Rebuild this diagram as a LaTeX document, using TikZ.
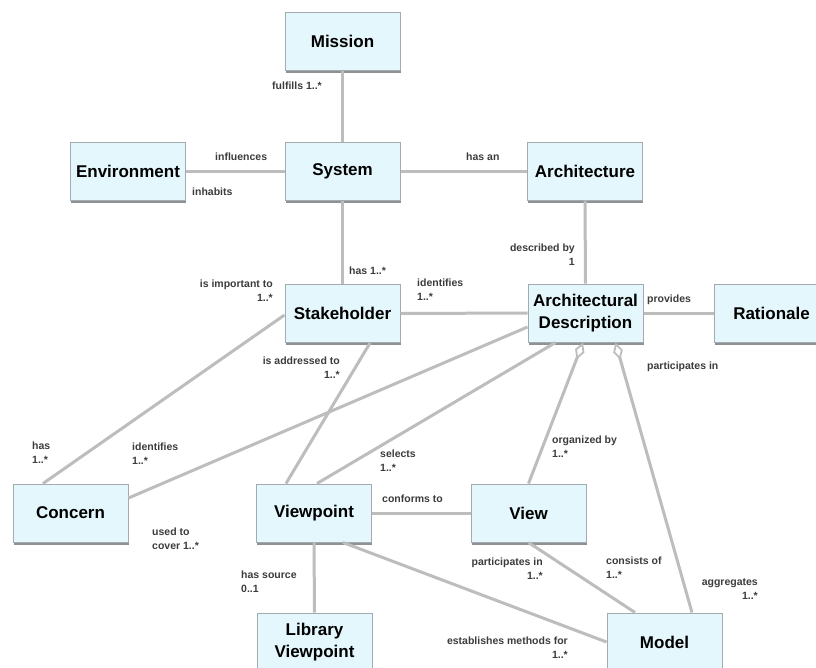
\documentclass[tikz,border=0pt]{standalone}
\usepackage{fontspec}
\setmainfont{Liberation Sans}
\usetikzlibrary{arrows.meta,shadows}
\definecolor{boxfill}{HTML}{E4F7FC}
\definecolor{boxline}{HTML}{A3ABAF}
\definecolor{shadowc}{HTML}{8C9296}
\definecolor{connc}{HTML}{BDBDBD}
\definecolor{lblc}{HTML}{3C3C3C}
\begin{document}
\begin{tikzpicture}[x=1pt,y=-1pt,
 cls/.style={draw=boxline, line width=1pt, fill=boxfill, minimum width=115pt, minimum height=58pt, inner sep=0pt, align=center, font=\fontsize{17}{22}\selectfont\bfseries, drop shadow={shadow xshift=0.5pt, shadow yshift=-2.5pt, fill=shadowc, opacity=1}},
 connline/.style={draw=connc, line width=3pt},
 lab/.style={inner sep=0pt, text=lblc, font=\fontsize{10.5}{14}\selectfont\bfseries},
 agg/.style={connline, {Diamond[open, length=18pt, width=10pt, line width=1.8pt]}-}
]
\useasboundingbox (0,0) rectangle (816,667);
\clip (0,0) rectangle (816,667);
\fill[white] (0,0) rectangle (816,667);

% classes
\node[cls] (mission) at (342.5,41) {Mission};
\node[cls] (system) at (342.5,171) {System};
\node[cls] (env) at (128,171) {Environment};
\node[cls] (arch) at (585,171) {Architecture};
\node[cls] (stake) at (342.5,313.5) {Stakeholder};
\node[cls] (ad) at (585.5,313) {Architectural\\Description};
\node[cls] (rat) at (771.5,313) {Rationale};
\node[cls] (concern) at (70.5,513) {Concern};
\node[cls] (vp) at (314,513) {Viewpoint};
\node[cls] (view) at (528.5,513) {View};
\node[cls] (model) at (664.5,642) {Model};
\node[cls] (lib) at (314.5,642) {Library\\Viewpoint};

% connectors
\draw[connline] (mission.south) -- (system.north);
\draw[connline] (env.east) -- (system.west);
\draw[connline] (system.east) -- (arch.west);
\draw[connline] (system.south) -- (stake.north);
\draw[connline] (arch.south) -- (ad.north);
\draw[connline] (stake.east) -- (ad.west);
\draw[connline] (ad.east) -- (rat.west);
\draw[connline] ([yshift=-1.5pt]stake.west) -- ([xshift=-27.5pt]concern.north);
\draw[connline] ([xshift=27.5pt]stake.south) -- ([xshift=-28pt]vp.north);
\draw[connline] ([yshift=-14pt]ad.west) -- ([yshift=15pt]concern.east);
\draw[connline] ([xshift=-30pt]ad.south) -- ([xshift=3pt]vp.north);
\draw[agg] ([xshift=-2.5pt]ad.south) -- (view.north);
\draw[agg] ([xshift=30pt]ad.south) -- ([xshift=27.5pt]model.north);
\draw[connline] (view.south) -- ([xshift=-29.5pt]model.north);
\draw[connline] (vp.east) -- (view.west);
\draw[connline] ([xshift=29pt]vp.south) -- (model.west);
\draw[connline] (vp.south) -- (lib.north);

% labels
\node[lab, anchor=west] (l1) at (272,86) {fulfills 1..*};
\node[lab, anchor=west] (l2) at (215,157) {influences};
\node[lab, anchor=west] (l3) at (192,192) {inhabits};
\node[lab, anchor=west] (l4) at (466,157) {has an};
\node[lab, anchor=west] (l5) at (349,271) {has 1..*};
\node[lab, anchor=north east, align=right] (l6) at (273,280) {is important to\\1..*};
\node[lab, anchor=north west, align=left] (l7) at (417,279) {identifies\\1..*};
\node[lab, anchor=north east, align=right] (l8) at (340,357) {is addressed to\\1..*};
\node[lab, anchor=north east, align=right] (l9) at (575,244) {described by\\1};
\node[lab, anchor=west] (l10) at (647,300) {provides};
\node[lab, anchor=west] (l11) at (647,367) {participates in};
\node[lab, anchor=north west, align=left] (l12) at (32,442) {has\\1..*};
\node[lab, anchor=north west, align=left] (l13) at (132,443) {identifies\\1..*};
\node[lab, anchor=north west, align=left] (l14) at (152,528) {used to\\cover 1..*};
\node[lab, anchor=north west, align=left] (l15) at (380,450) {selects\\1..*};
\node[lab, anchor=west] (l16) at (382,499) {conforms to};
\node[lab, anchor=north west, align=left] (l17) at (552,436) {organized by\\1..*};
\node[lab, anchor=north west, align=left] (l18) at (606,557) {consists of\\1..*};
\node[lab, anchor=north east, align=right] (l19) at (758,578) {aggregates\\1..*};
\node[lab, anchor=north east, align=right] (l20) at (543,558) {participates in\\1..*};
\node[lab, anchor=north west, align=left] (l21) at (241,571) {has source\\0..1};
\node[lab, anchor=north east, align=right] (l22) at (568,637) {establishes methods for\\1..*};
\end{tikzpicture}
\end{document}
